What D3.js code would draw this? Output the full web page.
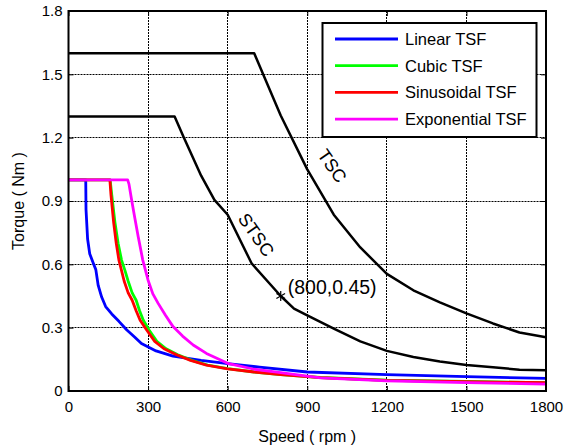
<!DOCTYPE html>
<html>
<head>
<meta charset="utf-8">
<script src="https://cdn.jsdelivr.net/npm/d3@7"></script>
<style>
  html, body { margin: 0; padding: 0; background: #fff; }
  svg { display: block; font-family: "Liberation Sans", Arial, sans-serif; }
</style>
</head>
<body>
<svg id="chart" width="565" height="446"></svg>
<script>
  "use strict";

  // tick values
  var speedTicks = [0, 300, 600, 900, 1200, 1500, 1800];
  var torqueTicks = [0, 0.3, 0.6, 0.9, 1.2, 1.5, 1.8];
  var torqueTickLabels = ['0', '0.3', '0.6', '0.9', '1.2', '1.5', '1.8'];

  // [speed rpm, torque Nm]
  var tscCurve = [[0, 1.6], [700, 1.6], [800, 1.305], [900, 1.05], [1000, 0.835], [1100, 0.68],
    [1200, 0.555], [1300, 0.477], [1400, 0.42], [1500, 0.368], [1600, 0.32], [1700, 0.277], [1800, 0.255]];

  var stscCurve = [[0, 1.3], [400, 1.3], [433, 1.205], [500, 1.02], [550, 0.905], [600, 0.835],
    [690, 0.605], [800, 0.45], [850, 0.39], [900, 0.358], [1000, 0.295], [1100, 0.235], [1200, 0.19],
    [1300, 0.161], [1400, 0.14], [1500, 0.123], [1600, 0.112], [1700, 0.101], [1800, 0.098]];

  var linearTSF = [[0, 1], [65, 1], [66, 0.86], [72, 0.72], [80, 0.65], [95, 0.6], [103, 0.575],
    [112, 0.5], [125, 0.445], [140, 0.4], [163, 0.365], [190, 0.33], [219, 0.29], [250, 0.255],
    [275, 0.225], [330, 0.19], [394, 0.165], [500, 0.145], [600, 0.13], [720, 0.113], [900, 0.09],
    [1200, 0.078], [1500, 0.068], [1800, 0.06]];

  var cubicTSF = [[0, 1], [157, 1], [163, 0.93], [175, 0.8], [187, 0.7], [200, 0.62], [213, 0.57],
    [225, 0.52], [240, 0.465], [255, 0.43], [268, 0.38], [282, 0.335], [303, 0.29], [333, 0.235],
    [368, 0.2], [412, 0.172], [465, 0.145], [525, 0.123], [600, 0.106], [700, 0.09], [800, 0.078],
    [950, 0.064], [1200, 0.051], [1500, 0.045], [1800, 0.04]];

  var sinusoidalTSF = [[0, 1], [156, 1], [160, 0.93], [170, 0.8], [180, 0.7], [190, 0.62], [200, 0.57],
    [210, 0.52], [225, 0.465], [240, 0.43], [255, 0.38], [270, 0.335], [294, 0.29], [325, 0.235],
    [360, 0.2], [407, 0.172], [460, 0.145], [520, 0.123], [600, 0.105], [700, 0.09], [800, 0.078],
    [950, 0.063], [1200, 0.05], [1500, 0.044], [1800, 0.039]];

  var exponentialTSF = [[0, 1], [223, 1], [228, 0.98], [238, 0.905], [250, 0.82], [263, 0.73],
    [280, 0.62], [300, 0.525], [318, 0.46], [338, 0.415], [365, 0.36], [394, 0.305], [430, 0.26],
    [470, 0.218], [520, 0.178], [600, 0.131], [700, 0.103], [800, 0.087], [950, 0.062], [1200, 0.048],
    [1500, 0.04], [1800, 0.033]];

  var legendNames = ['Linear TSF', 'Cubic TSF', 'Sinusoidal TSF', 'Exponential TSF'];
  var legendColors = ['#0000ff', '#00ff00', '#ff0000', '#ff00ff'];
  var markPoint = [800, 0.45];

  var margin = { left: 68.5, right: 19, top: 11, bottom: 55 };
  var width = 565, height = 446;

  var svg = d3.select('#chart');

  var x = d3.scaleLinear().domain([0, 1800]).range([margin.left, width - margin.right]);
  var y = d3.scaleLinear().domain([0, 1.8]).range([height - margin.bottom, margin.top]);

  var lineFn = d3.line()
    .x(function(d) { return x(d[0]); })
    .y(function(d) { return y(d[1]); });

  // 對齊到半像素，讓虛線清楚
  function px(v) {
    return Math.round(v - 0.5) + 0.5;
  }

  // 網格 (dotted)
  var grid = svg.append('g').attr('class', 'grid')
    .attr('stroke', '#000')
    .attr('stroke-width', 1)
    .attr('stroke-dasharray', '2,1');

  grid.selectAll('line.gx')
    .data(speedTicks.slice(1, -1))
    .enter().append('line')
    .attr('class', 'gx')
    .attr('x1', function(d) { return px(x(d)); })
    .attr('x2', function(d) { return px(x(d)); })
    .attr('y1', y(0)).attr('y2', y(1.8));

  grid.selectAll('line.gy')
    .data(torqueTicks.slice(1, -1))
    .enter().append('line')
    .attr('class', 'gy')
    .attr('y1', function(d) { return px(y(d)); })
    .attr('y2', function(d) { return px(y(d)); })
    .attr('x1', x(0)).attr('x2', x(1800));

  // axes (ticks point inward)
  function styleAxis(g) {
    g.select('.domain').remove();
    g.selectAll('.tick line').attr('stroke', '#000').attr('stroke-width', 1);
    g.selectAll('.tick text').attr('fill', '#000').style('font-size', '15px');
  }

  svg.append('g')
    .attr('transform', 'translate(0,' + y(0) + ')')
    .call(d3.axisBottom(x).tickValues(speedTicks).tickSize(-5).tickPadding(10).tickFormat(d3.format('d')))
    .call(styleAxis);

  svg.append('g')
    .attr('transform', 'translate(' + x(0) + ',0)')
    .call(d3.axisLeft(y).tickValues(torqueTicks).tickSize(-5).tickPadding(6)
      .tickFormat(function(d, i) { return torqueTickLabels[i]; }))
    .call(styleAxis);

  svg.append('g')
    .attr('transform', 'translate(0,' + y(1.8) + ')')
    .call(d3.axisTop(x).tickValues(speedTicks).tickSize(-5).tickFormat(''))
    .call(styleAxis);

  svg.append('g')
    .attr('transform', 'translate(' + x(1800) + ',0)')
    .call(d3.axisRight(y).tickValues(torqueTicks).tickSize(-5).tickFormat(''))
    .call(styleAxis);

  // curves
  var curves = svg.append('g').attr('class', 'curves')
    .attr('fill', 'none')
    .attr('stroke-linejoin', 'round');

  [tscCurve, stscCurve].forEach(function(data) {
    curves.append('path')
      .datum(data)
      .attr('d', lineFn)
      .attr('stroke', '#000')
      .attr('stroke-width', 2.5);
  });

  [linearTSF, cubicTSF, sinusoidalTSF, exponentialTSF].forEach(function(data, i) {
    curves.append('path')
      .datum(data)
      .attr('d', lineFn)
      .attr('stroke', legendColors[i])
      .attr('stroke-width', 2.8);
  });

  // plot border
  svg.append('rect')
    .attr('x', x(0)).attr('y', y(1.8))
    .attr('width', x(1800) - x(0)).attr('height', y(0) - y(1.8))
    .attr('fill', 'none').attr('stroke', '#000').attr('stroke-width', 2);

  // annotations
  svg.append('text')
    .attr('transform', 'translate(332,166) rotate(55)')
    .attr('text-anchor', 'middle').attr('dominant-baseline', 'central')
    .style('font-size', '18px')
    .text('TSC');

  svg.append('text')
    .attr('transform', 'translate(256,235) rotate(55)')
    .attr('text-anchor', 'middle').attr('dominant-baseline', 'central')
    .style('font-size', '18px')
    .text('STSC');

  var mx = x(markPoint[0]), my = y(markPoint[1]);
  var star = svg.append('g').attr('stroke', '#000').attr('stroke-width', 1.2);
  [0, 60, 120].forEach(function(a) {
    var r = 5, rad = a * Math.PI / 180;
    star.append('line')
      .attr('x1', mx - r * Math.sin(rad)).attr('y1', my - r * Math.cos(rad))
      .attr('x2', mx + r * Math.sin(rad)).attr('y2', my + r * Math.cos(rad));
  });

  svg.append('text')
    .attr('x', mx + 7).attr('y', my - 2)
    .style('font-size', '19.5px')
    .text('(' + markPoint[0] + ',' + markPoint[1] + ')');

  // legend
  var lg = svg.append('g').attr('class', 'legend');
  lg.append('rect')
    .attr('x', 322.5).attr('y', 23)
    .attr('width', 214).attr('height', 114)
    .attr('fill', '#fff').attr('stroke', '#000').attr('stroke-width', 2);

  legendNames.forEach(function(name, i) {
    var ly = 39 + i * 26.7;
    lg.append('line')
      .attr('x1', 335).attr('x2', 398)
      .attr('y1', ly).attr('y2', ly)
      .attr('stroke', legendColors[i]).attr('stroke-width', 2.8);
    lg.append('text')
      .attr('x', 405).attr('y', ly)
      .attr('dominant-baseline', 'central')
      .style('font-size', '16.5px')
      .text(name);
  });

  // axis titles
  svg.append('text')
    .attr('x', (x(0) + x(1800)) / 2).attr('y', 436)
    .attr('text-anchor', 'middle').attr('dominant-baseline', 'central')
    .style('font-size', '16px')
    .text('Speed ( rpm )');

  svg.append('text')
    .attr('transform', 'translate(18,' + ((y(0) + y(1.8)) / 2) + ') rotate(-90)')
    .attr('text-anchor', 'middle').attr('dominant-baseline', 'central')
    .style('font-size', '16px')
    .text('Torque ( Nm )');
</script>
</body>
</html>
